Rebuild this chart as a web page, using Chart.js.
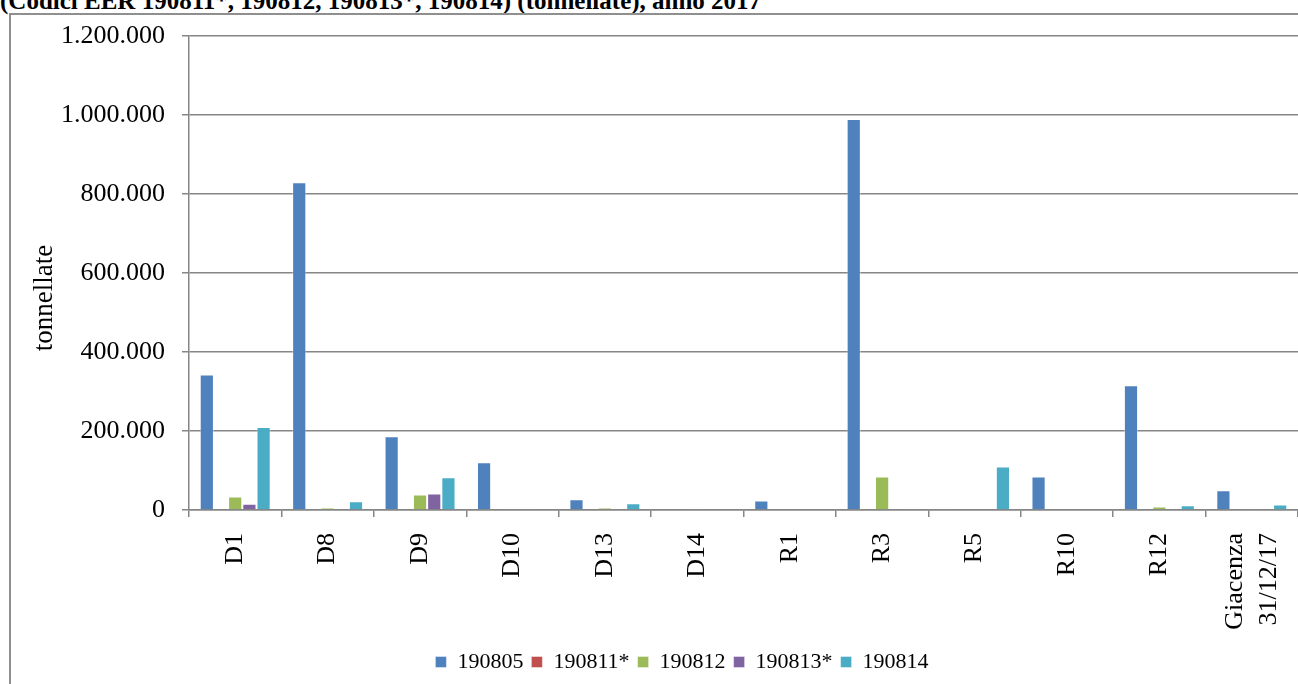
<!DOCTYPE html>
<html>
<head>
<meta charset="utf-8">
<script src="https://cdn.jsdelivr.net/npm/chart.js@4.4.1/dist/chart.umd.min.js"></script>
<style>
  html, body { margin: 0; padding: 0; background: #fff; overflow: hidden; }
  body { width: 1298px; height: 684px; position: relative; }
  .heading {
    position: absolute; left: 0; top: -12px; white-space: nowrap;
    font: bold 25px/25px "Liberation Serif", "Times New Roman", serif; color: #000;
  }
  .frame {
    position: absolute; left: 9px; top: 13px; width: 1400px; height: 800px;
    border: 2px solid #8f8f8f; box-sizing: border-box;
  }
  #chart { position: absolute; left: 0; top: 0; }
</style>
</head>
<body>
<div class="heading">(Codici EER 190811*, 190812, 190813*, 190814) (tonnellate), anno 2017</div>
<div class="frame"></div>
<canvas id="chart" width="1298" height="684"></canvas>
<script>
// destination codes (operazioni di smaltimento / recupero)
const categories = ['D1', 'D8', 'D9', 'D10', 'D13', 'D14', 'R1', 'R3', 'R5', 'R10', 'R12', ['Giacenza', '31/12/17']];

// tonnellate per codice EER
const eer190805 = [343000, 830000, 187000, 121000, 27000, 0, 24000, 990000, 2500, 85000, 316000, 50000];
const eer190811 = [0, 0, 0, 0, 0, 0, 0, 0, 0, 0, 0, 0];
const eer190812 = [34000, 6000, 39000, 2500, 6000, 1000, 0, 85000, 0, 0, 9000, 1500];
const eer190813 = [16000, 0, 42000, 1500, 0, 0, 0, 0, 0, 0, 0, 0];
const eer190814 = [210000, 22000, 83000, 3000, 17000, 0, 0, 2500, 110000, 0, 12000, 14000];

const seriesNames = ['190805', '190811*', '190812', '190813*', '190814'];
const seriesValues = [eer190805, eer190811, eer190812, eer190813, eer190814];
const seriesColors = ['#4f81bd', '#c0504d', '#9bbb59', '#8064a2', '#4bacc6'];

const yTicks = { min: 0, max: 1200000, step: 200000 };
const yTitle = 'tonnellate';

const gridColor = '#868686';
const serif = '"Liberation Serif", "Times New Roman", serif';

Chart.defaults.font.family = serif;
Chart.defaults.color = '#000';

// thousands with a dot, e.g. 1.200.000
const formatThousands = (v) => String(v).replace(/\B(?=(\d{3})+(?!\d))/g, '.');

// nudge the legend a bit to the right of the canvas centre
const legendShift = {
  id: 'legendShift',
  afterLayout(chart) {
    const lg = chart.legend;
    if (!lg) return;
    lg.left += 33;
    lg.right += 33;
  }
};

// rotated two-line labels: centre the block on the tick instead of the first line
const centerMultiline = {
  id: 'centerMultiline',
  beforeDraw(chart) {
    const scale = chart.scales.x;
    const lh = 26 * 1.3;
    scale.getLabelItems().forEach((item) => {
      if (Array.isArray(item.label) && !item._centered) {
        item.textOffset -= (item.label.length - 1) * lh / 2;
        item._centered = true;
      }
    });
  }
};

// y axis title, a bit below the middle of the axis
const yAxisTitle = {
  id: 'yAxisTitle',
  afterDraw(chart) {
    const ctx = chart.ctx;
    ctx.save();
    ctx.translate(45, 298);
    ctx.rotate(-Math.PI / 2);
    ctx.font = '27px ' + serif;
    ctx.fillStyle = '#000';
    ctx.textAlign = 'center';
    ctx.textBaseline = 'middle';
    ctx.fillText(yTitle, 0, 0);
    ctx.restore();
  }
};

new Chart(document.getElementById('chart'), {
  type: 'bar',
  data: {
    labels: categories,
    datasets: seriesNames.map((name, i) => ({
      label: name,
      data: seriesValues[i],
      backgroundColor: seriesColors[i],
      borderColor: 'rgba(255,255,255,0.4)',
      borderWidth: 1,
      categoryPercentage: 0.768,
      barPercentage: 1.0,
    })),
  },
  options: {
    responsive: false,
    devicePixelRatio: 1,
    animation: false,
    layout: { padding: { top: 36, left: 0, right: 0, bottom: 1 } },
    plugins: {
      tooltip: { enabled: false },
      legend: {
        position: 'bottom',
        labels: {
          boxWidth: 11,
          boxHeight: 11,
          padding: 8,
          font: { size: 22 },
          color: '#000',
        },
      },
    },
    scales: {
      x: {
        grid: {
          offset: true,
          drawOnChartArea: false,
          drawTicks: true,
          tickLength: 7,
          color: gridColor,
          lineWidth: 1.5,
        },
        border: { display: true, color: gridColor, width: 1.5 },
        ticks: {
          autoSkip: false,
          minRotation: 90,
          maxRotation: 90,
          padding: 16,
          font: { size: 26, lineHeight: 1.3 },
          color: '#000',
        },
        afterFit(scale) {
          scale.height = 133;
          scale.paddingLeft = 0;
          scale.paddingRight = 0;
        },
      },
      y: {
        min: yTicks.min,
        max: yTicks.max,
        grid: {
          drawTicks: true,
          tickLength: 7,
          color: gridColor,
          lineWidth: 1.5,
        },
        border: { display: true, color: gridColor, width: 1.5 },
        ticks: {
          stepSize: yTicks.step,
          padding: 17,
          font: { size: 26 },
          color: '#000',
          callback: (v) => formatThousands(v),
        },
        afterFit(scale) {
          scale.width = 189;
          scale.paddingTop = 0;
          scale.paddingBottom = 0;
        },
      },
    },
  },
  plugins: [legendShift, centerMultiline, yAxisTitle],
});
</script>
</body>
</html>
